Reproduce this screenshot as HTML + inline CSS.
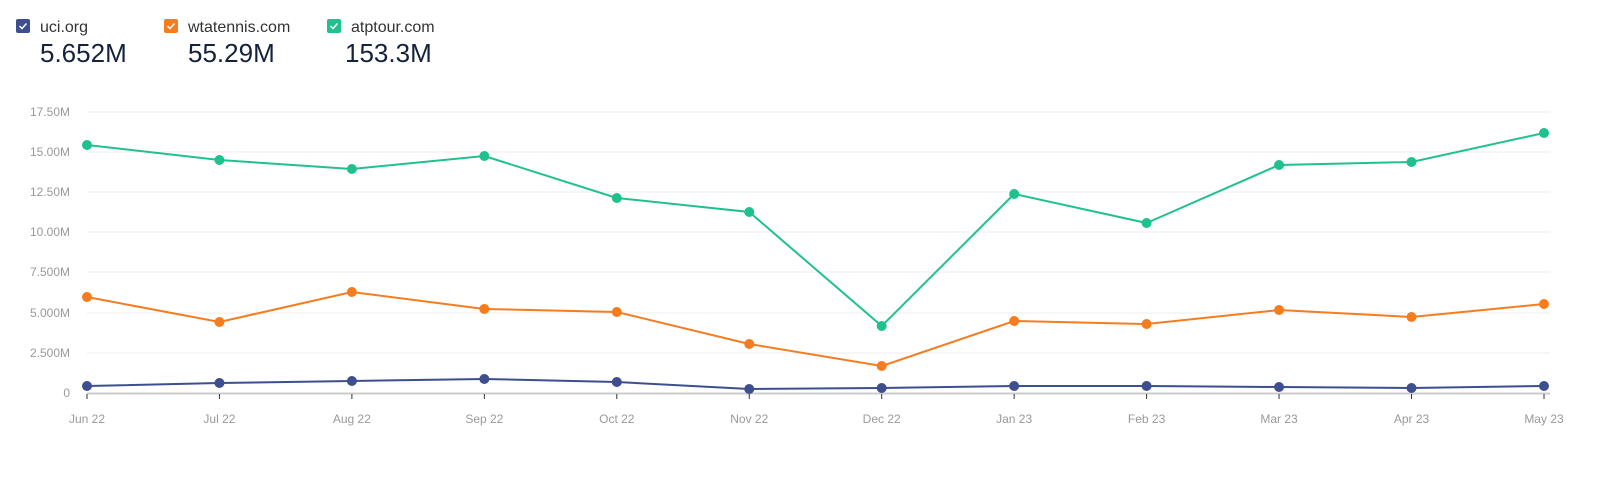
<!DOCTYPE html><html><head><style>body{margin:0;background:#fff;font-family:"Liberation Sans",sans-serif}</style></head><body>
<svg width="1600" height="473" xmlns="http://www.w3.org/2000/svg" font-family="Liberation Sans, sans-serif">
<g>
<rect x="16" y="19" width="14" height="14" rx="2" fill="#3d4f8f"/><path d="M19.5 26l2.5 2.5 4.5-5" stroke="#fff" stroke-width="1.5" fill="none"/>
<text x="40" y="32" font-size="16" fill="#333">uci.org</text>
<text x="40" y="62" font-size="26" fill="#14223d">5.652M</text>
<rect x="164" y="19" width="14" height="14" rx="2" fill="#f57c1f"/><path d="M167.5 26l2.5 2.5 4.5-5" stroke="#fff" stroke-width="1.5" fill="none"/>
<text x="188" y="32" font-size="16" fill="#333">wtatennis.com</text>
<text x="188" y="62" font-size="26" fill="#14223d">55.29M</text>
<rect x="327" y="19" width="14" height="14" rx="2" fill="#1fc18f"/><path d="M330.5 26l2.5 2.5 4.5-5" stroke="#fff" stroke-width="1.5" fill="none"/>
<text x="351" y="32" font-size="16" fill="#333">atptour.com</text>
<text x="345" y="62" font-size="26" fill="#14223d">153.3M</text>
</g>
<g stroke="#eee" stroke-width="1">
<line x1="87" x2="1550" y1="112" y2="112"/><line x1="87" x2="1550" y1="152" y2="152"/><line x1="87" x2="1550" y1="192" y2="192"/><line x1="87" x2="1550" y1="232" y2="232"/><line x1="87" x2="1550" y1="272" y2="272"/><line x1="87" x2="1550" y1="313" y2="313"/><line x1="87" x2="1550" y1="353" y2="353"/>
</g>
<line x1="87" x2="1550" y1="393.5" y2="393.5" stroke="#ccc" stroke-width="2"/>
<g font-size="12" fill="#999" text-anchor="end">
<text x="70" y="116">17.50M</text><text x="70" y="156">15.00M</text><text x="70" y="196">12.50M</text><text x="70" y="236">10.00M</text><text x="70" y="276">7.500M</text><text x="70" y="317">5.000M</text><text x="70" y="357">2.500M</text><text x="70" y="397">0</text>
</g>
<g stroke="#333">
<line x1="87" x2="87" y1="394" y2="399"/><line x1="219.45" x2="219.45" y1="394" y2="399"/><line x1="351.9" x2="351.9" y1="394" y2="399"/><line x1="484.35" x2="484.35" y1="394" y2="399"/><line x1="616.8" x2="616.8" y1="394" y2="399"/><line x1="749.25" x2="749.25" y1="394" y2="399"/><line x1="881.7" x2="881.7" y1="394" y2="399"/><line x1="1014.15" x2="1014.15" y1="394" y2="399"/><line x1="1146.6" x2="1146.6" y1="394" y2="399"/><line x1="1279.05" x2="1279.05" y1="394" y2="399"/><line x1="1411.5" x2="1411.5" y1="394" y2="399"/><line x1="1544" x2="1544" y1="394" y2="399"/>
</g>
<g font-size="12" fill="#999" text-anchor="middle">
<text x="87" y="423">Jun 22</text><text x="219.45" y="423">Jul 22</text><text x="351.9" y="423">Aug 22</text><text x="484.35" y="423">Sep 22</text><text x="616.8" y="423">Oct 22</text><text x="749.25" y="423">Nov 22</text><text x="881.7" y="423">Dec 22</text><text x="1014.15" y="423">Jan 23</text><text x="1146.6" y="423">Feb 23</text><text x="1279.05" y="423">Mar 23</text><text x="1411.5" y="423">Apr 23</text><text x="1544" y="423">May 23</text>
</g>
<polyline fill="none" stroke="#1fc18f" stroke-width="2" points="87,145 219.45,160 351.9,169 484.35,156 616.8,198 749.25,212 881.7,326 1014.15,194 1146.6,223 1279.05,165 1411.5,162 1544,133"/>
<g fill="#1fc18f"><circle cx="87" cy="145" r="5"/><circle cx="219.45" cy="160" r="5"/><circle cx="351.9" cy="169" r="5"/><circle cx="484.35" cy="156" r="5"/><circle cx="616.8" cy="198" r="5"/><circle cx="749.25" cy="212" r="5"/><circle cx="881.7" cy="326" r="5"/><circle cx="1014.15" cy="194" r="5"/><circle cx="1146.6" cy="223" r="5"/><circle cx="1279.05" cy="165" r="5"/><circle cx="1411.5" cy="162" r="5"/><circle cx="1544" cy="133" r="5"/></g>
<polyline fill="none" stroke="#f57c1f" stroke-width="2" points="87,297 219.45,322 351.9,292 484.35,309 616.8,312 749.25,344 881.7,366 1014.15,321 1146.6,324 1279.05,310 1411.5,317 1544,304"/>
<g fill="#f57c1f"><circle cx="87" cy="297" r="5"/><circle cx="219.45" cy="322" r="5"/><circle cx="351.9" cy="292" r="5"/><circle cx="484.35" cy="309" r="5"/><circle cx="616.8" cy="312" r="5"/><circle cx="749.25" cy="344" r="5"/><circle cx="881.7" cy="366" r="5"/><circle cx="1014.15" cy="321" r="5"/><circle cx="1146.6" cy="324" r="5"/><circle cx="1279.05" cy="310" r="5"/><circle cx="1411.5" cy="317" r="5"/><circle cx="1544" cy="304" r="5"/></g>
<polyline fill="none" stroke="#3d4f8f" stroke-width="2" points="87,386 219.45,383 351.9,381 484.35,379 616.8,382 749.25,389 881.7,388 1014.15,386 1146.6,386 1279.05,387 1411.5,388 1544,386"/>
<g fill="#3d4f8f"><circle cx="87" cy="386" r="5"/><circle cx="219.45" cy="383" r="5"/><circle cx="351.9" cy="381" r="5"/><circle cx="484.35" cy="379" r="5"/><circle cx="616.8" cy="382" r="5"/><circle cx="749.25" cy="389" r="5"/><circle cx="881.7" cy="388" r="5"/><circle cx="1014.15" cy="386" r="5"/><circle cx="1146.6" cy="386" r="5"/><circle cx="1279.05" cy="387" r="5"/><circle cx="1411.5" cy="388" r="5"/><circle cx="1544" cy="386" r="5"/></g>
</svg></body></html>
